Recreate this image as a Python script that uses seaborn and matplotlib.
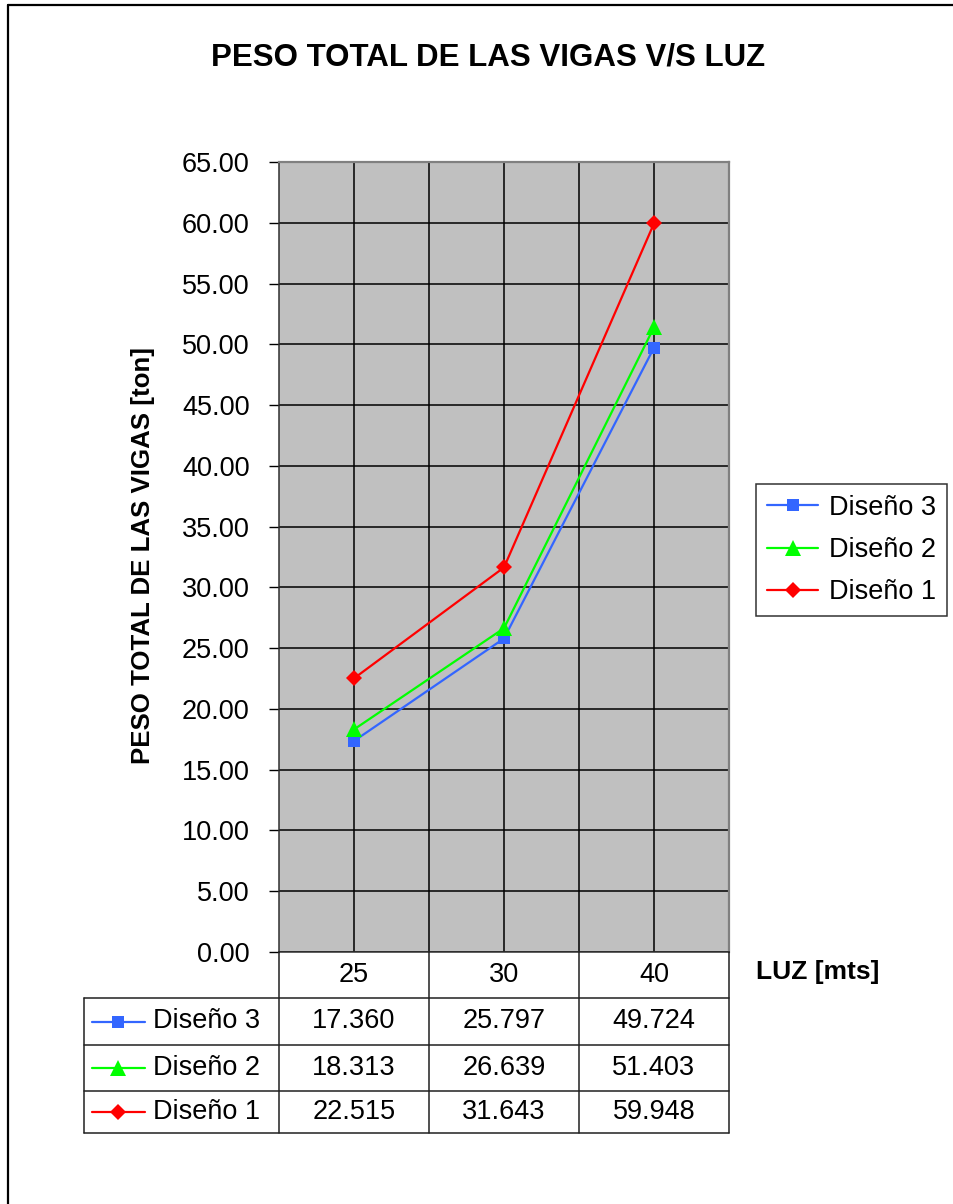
import matplotlib
matplotlib.use("Agg")
import matplotlib.pyplot as plt
import matplotlib.transforms as mtransforms
from matplotlib.lines import Line2D
import seaborn as sns
import pandas as pd

# ---- data ----
luz = ["25", "30", "40"]
disenos = ["Diseño 3", "Diseño 2", "Diseño 1"]
diseno3 = [17.360, 25.797, 49.724]
diseno2 = [18.313, 26.639, 51.403]
diseno1 = [22.515, 31.643, 59.948]
y_ticks = [0, 5, 10, 15, 20, 25, 30, 35, 40, 45, 50, 55, 60, 65]

title = "PESO TOTAL DE LAS VIGAS V/S LUZ"
ylabel = "PESO TOTAL DE LAS VIGAS [ton]"
xlabel = "LUZ [mts]"

colors = {"Diseño 3": "#3366FF", "Diseño 2": "#00FF00", "Diseño 1": "#FF0000"}
markers = {"Diseño 3": "s", "Diseño 2": "^", "Diseño 1": "D"}
msizes = {"Diseño 3": 9, "Diseño 2": 11, "Diseño 1": 8}

values = {"Diseño 3": diseno3, "Diseño 2": diseno2, "Diseño 1": diseno1}
rows = []
for d in disenos:
    for i, v in enumerate(values[d]):
        rows.append({"pos": i, "luz": luz[i], "peso": v, "diseno": d})
df = pd.DataFrame(rows)

sns.set_theme(style="white")
plt.rcParams["font.family"] = ["Liberation Sans", "DejaVu Sans"]
plt.rcParams["text.color"] = "black"
plt.rcParams["xtick.color"] = "black"
plt.rcParams["ytick.color"] = "black"
plt.rcParams["axes.labelcolor"] = "black"

W, H = 954, 1204
fig = plt.figure(figsize=(W / 100, H / 100), dpi=100)
fig.patch.set_facecolor("white")

def fx(px):
    return px / W

def fy(py):
    return 1 - py / H

ax = fig.add_axes([fx(279), fy(952), fx(729) - fx(279), fy(162) - fy(952)])
ax.set_facecolor("#C0C0C0")

for d in disenos:
    sub = df[df["diseno"] == d]
    sns.lineplot(data=sub, x="pos", y="peso", ax=ax, color=colors[d],
                 marker=markers[d], markersize=msizes[d], markeredgewidth=0,
                 linewidth=1.6, label=d, legend=False)

ax.set_xlim(-0.5, len(luz) - 0.5)
ax.set_ylim(0, 65)
ax.set_yticks(y_ticks)
ax.set_yticklabels([f"{v:.2f}" for v in y_ticks], fontsize=19.5, color="black")
ax.set_xticks([0, 0.5, 1, 1.5, 2])
ax.set_xticklabels([])
ax.tick_params(axis="x", length=0)
ax.tick_params(axis="y", length=7, width=1, color="black", pad=14, left=True, direction="out")
ax.grid(True, color="black", linewidth=1.1)
ax.set_xlabel("")
ax.set_ylabel("")
for s in ["left", "bottom"]:
    ax.spines[s].set_color("#303030")
    ax.spines[s].set_linewidth(1.1)
for s in ["top", "right"]:
    ax.spines[s].set_color("#808080")
    ax.spines[s].set_linewidth(1.6)

# ---- title and axis labels ----
fig.text(fx(488), fy(58), title, ha="center", va="center", fontsize=22.5, fontweight="bold")
fig.text(fx(143), fy(555), ylabel, ha="center", va="center", rotation=90,
         fontsize=18.6, fontweight="bold")
fig.text(fx(818), fy(972), xlabel, ha="center", va="center", fontsize=19, fontweight="bold")

# ---- data table ----
bt = mtransforms.blended_transform_factory(ax.transData, fig.transFigure)
lc = "#202020"
row_lines = [998, 1045, 1091, 1133]
for py in row_lines:
    fig.add_artist(Line2D([fx(84), fx(729)], [fy(py), fy(py)], color=lc, lw=1.1,
                          transform=fig.transFigure))
for xb in [-0.5, 0.5, 1.5, 2.5]:
    fig.add_artist(Line2D([xb, xb], [fy(952), fy(1133)], color=lc, lw=1.1, transform=bt))
fig.add_artist(Line2D([fx(84), fx(84)], [fy(998), fy(1133)], color=lc, lw=1.1,
                      transform=fig.transFigure))

for i, lab in enumerate(luz):
    fig.text(i, fy(975), lab, transform=bt, ha="center", va="center", fontsize=19.5)

row_centers = [1021.5, 1068, 1112]
for r, d in enumerate(disenos):
    yc = fy(row_centers[r])
    fig.add_artist(Line2D([fx(92), fx(145)], [yc, yc], color=colors[d], lw=1.6,
                          transform=fig.transFigure))
    fig.add_artist(Line2D([fx(118)], [yc], color=colors[d], marker=markers[d],
                          markersize=msizes[d], markeredgewidth=0, linestyle="none",
                          transform=fig.transFigure))
    fig.text(fx(153), yc, d, ha="left", va="center", fontsize=19.5)
    for i, v in enumerate(values[d]):
        fig.text(i, yc, f"{v:.3f}", transform=bt, ha="center", va="center", fontsize=19.5)

# ---- legend ----
handles = [Line2D([], [], color=colors[d], marker=markers[d], markersize=msizes[d],
                  markeredgewidth=0, lw=1.6) for d in disenos]
leg = fig.legend(handles, disenos, loc="upper left",
                 bbox_to_anchor=(fx(756), fy(484)), fontsize=19.5, frameon=True,
                 fancybox=False, edgecolor="black", handlelength=1.9,
                 handletextpad=0.4, borderpad=0.4, labelspacing=0.6,
                 borderaxespad=0)
leg.get_frame().set_linewidth(1.1)

# ---- outer frame (cropped chart border) ----
fig.add_artist(Line2D([fx(8), fx(8)], [fy(5), 0], color="black", lw=1.6,
                      transform=fig.transFigure))
fig.add_artist(Line2D([fx(8), 1], [fy(5), fy(5)], color="black", lw=1.6,
                      transform=fig.transFigure))

fig.savefig("out.png", dpi=100)
